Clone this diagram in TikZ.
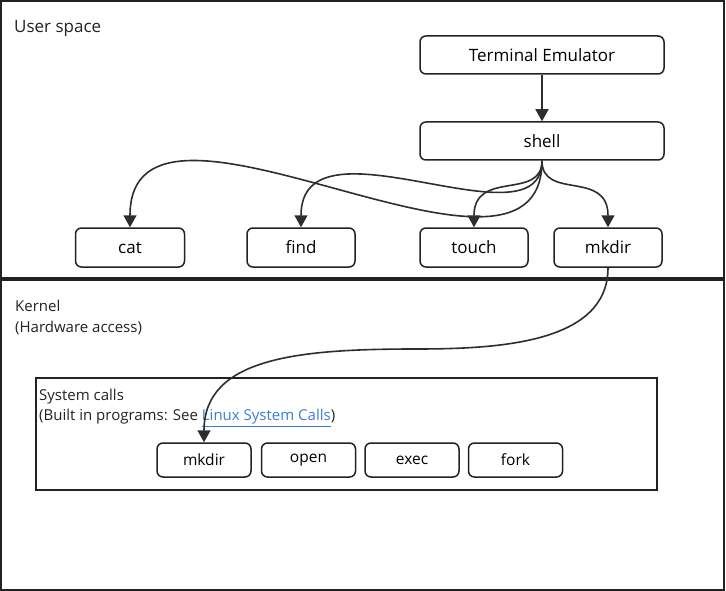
\documentclass[tikz,border=0pt]{standalone}
\usepackage{fontspec}
\setmainfont{Open Sans}
\usetikzlibrary{arrows.meta}
\definecolor{linkblue}{HTML}{3B7DD8}
\definecolor{ink}{HTML}{222222}
\begin{document}
\begin{tikzpicture}[x=1pt,y=-1pt,
  box/.style={draw=ink, line width=1.5pt, rounded corners=6pt, minimum height=38pt, inner sep=0pt, font=\fontsize{17}{20}\selectfont},
  sbox/.style={box, minimum height=34pt, minimum width=94pt, font=\fontsize{15.5}{18}\selectfont},
  conn/.style={draw=ink!95, line width=1.6pt, -{Triangle[length=12pt,width=13pt]}},
  lbl/.style={anchor=west, inner sep=0pt, text=ink},
  frame/.style={draw=ink, line width=1.3pt}
]
\useasboundingbox (0,0) rectangle (726,591);
% frames
\draw[frame] (1,1) rectangle (724,590);
\draw[draw=ink, line width=4pt] (1,279) -- (724,279);
\draw[frame] (36,378) rectangle (657,490);
% labels
\node[lbl, font=\fontsize{17}{20}\selectfont] (us) at (14,28) {User space};
\node[lbl, font=\fontsize{15}{18}\selectfont] (kn) at (15,306) {Kernel};
\node[lbl, font=\fontsize{15}{18}\selectfont] (hw) at (15,328) {(Hardware access)};
\node[lbl, font=\fontsize{15}{18}\selectfont] (sc) at (39,397) {System calls};
\node[lbl, font=\fontsize{15}{18}\selectfont] (bi) at (39,418) {(Built in programs: See {\color{linkblue}\underline{Linux System Calls}})};
% user space nodes
\node[box, minimum width=244pt] (term) at (542,55) {Terminal Emulator};
\node[box, minimum width=244pt] (shell) at (542,141) {shell};
\node[box, minimum width=109pt, minimum height=39pt] (cat) at (130,247.5) {cat};
\node[box, minimum width=108pt, minimum height=39pt] (find) at (301,247.5) {find};
\node[box, minimum width=108pt, minimum height=39pt] (touch) at (474,247.5) {touch};
\node[box, minimum width=108pt, minimum height=39pt] (mk) at (608,247.5) {mkdir};
% system call nodes
\node[sbox] (smk) at (204,460) {mkdir};
\node[sbox] (open) at (308.5,460) {open};
\node[sbox] (exec) at (412,460) {exec};
\node[sbox] (fork) at (515.5,460) {fork};
% connectors
\draw[conn] (term) -- (shell);
\draw[conn] (shell.south) .. controls +(0,168) and +(0,-178) .. (cat.north);
\draw[conn] (shell.south) .. controls +(0,90) and +(0,-118) .. (find.north);
\draw[conn] (shell.south) .. controls +(0,40) and +(0,-58) .. (touch.north);
\draw[conn] (shell.south) .. controls +(0,40) and +(0,-58) .. (mk.north);
\coordinate (mid) at (416,349);
\draw[conn] (mk.south) .. controls +(0,75) and (500,349) .. (mid) .. controls (300,349) and +(0,-85) .. (smk.north);
\end{tikzpicture}
\end{document}
